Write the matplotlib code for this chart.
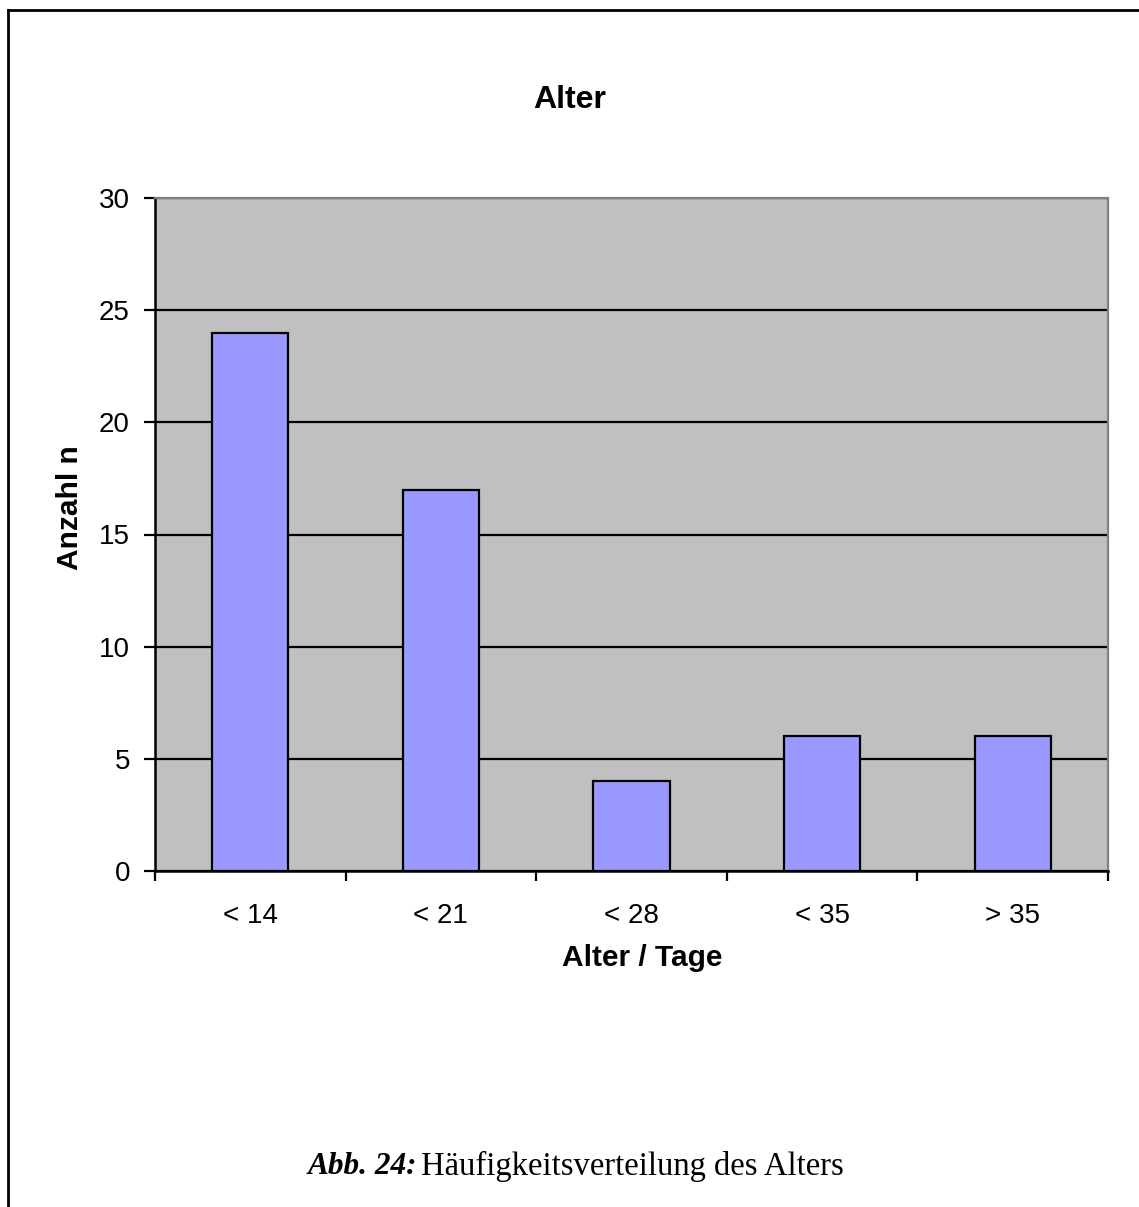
import numpy as np
import matplotlib
matplotlib.use("Agg")
from matplotlib import pyplot as plt
from matplotlib import ticker
from matplotlib.lines import Line2D

# Altersklassen (Tage) und Anzahl der Tiere je Klasse
age_groups = ["< 14", "< 21", "< 28", "< 35", "> 35"]
counts = [24, 17, 4, 6, 6]
y_ticks = [0, 5, 10, 15, 20, 25, 30]

plt.rcParams['font.family'] = ['Liberation Sans', 'DejaVu Sans']

W, H = 1139, 1207
fig = plt.figure(figsize=(W / 100, H / 100), dpi=100)
ax = fig.add_axes([155 / W, 1 - 871 / H, (1108 - 155) / W, (871 - 198) / H])

pos = np.arange(len(age_groups))
ax.set_facecolor("#c0c0c0")
ax.bar(pos, counts, width=0.4, color="#9999ff", edgecolor="black",
       linewidth=1.6, zorder=3)

ax.set_ylim(0, 30)
ax.set_xlim(-0.5, len(age_groups) - 0.5)
ax.set_yticks(y_ticks)
ax.yaxis.grid(True, color="black", linewidth=1.6, zorder=1)
ax.set_axisbelow(True)

# Kategoriegrenzen als Hauptticks, Beschriftung in der Mitte
ax.xaxis.set_major_locator(ticker.FixedLocator(np.arange(-0.5, len(age_groups), 1.0)))
ax.xaxis.set_major_formatter(ticker.NullFormatter())
ax.xaxis.set_minor_locator(ticker.FixedLocator(pos))
ax.xaxis.set_minor_formatter(ticker.FixedFormatter(age_groups))
ax.tick_params(axis="x", which="minor", length=0, pad=23, labelsize=20)
ax.tick_params(axis="x", which="major", length=7, width=1.6, direction="out")
ax.tick_params(axis="y", length=8, width=1.6, direction="out", pad=10, labelsize=20)

for side in ("left", "bottom"):
    ax.spines[side].set_color("black")
    ax.spines[side].set_linewidth(1.8)
for side in ("top", "right"):
    ax.spines[side].set_color("#808080")
    ax.spines[side].set_linewidth(1.6)

fig.text(570 / W, 1 - 100 / H, "Alter", fontsize=23, fontweight="bold",
         ha="center", va="center")
fig.text(70 / W, 1 - 508 / H, "Anzahl n", fontsize=21.5, fontweight="bold",
         ha="center", va="center", rotation=90)
fig.text(642 / W, 1 - 958 / H, "Alter / Tage", fontsize=21.5, fontweight="bold",
         ha="center", va="center")

# Bildunterschrift
fig.text(308 / W, 1 - 1166 / H, "Abb. 24:", fontsize=22.5, family="Liberation Serif",
         fontweight="bold", style="italic", ha="left", va="center")
fig.text(421 / W, 1 - 1166 / H, "Häufigkeitsverteilung des Alters", fontsize=23.5,
         family="Liberation Serif", ha="left", va="center")

# Rahmen oben und links
fig.add_artist(Line2D([8 / W, 1138 / W], [1 - 10 / H, 1 - 10 / H], color="black", linewidth=2))
fig.add_artist(Line2D([8 / W, 8 / W], [1 - 10 / H, 0], color="black", linewidth=2))

fig.savefig("out.png", dpi=100)
